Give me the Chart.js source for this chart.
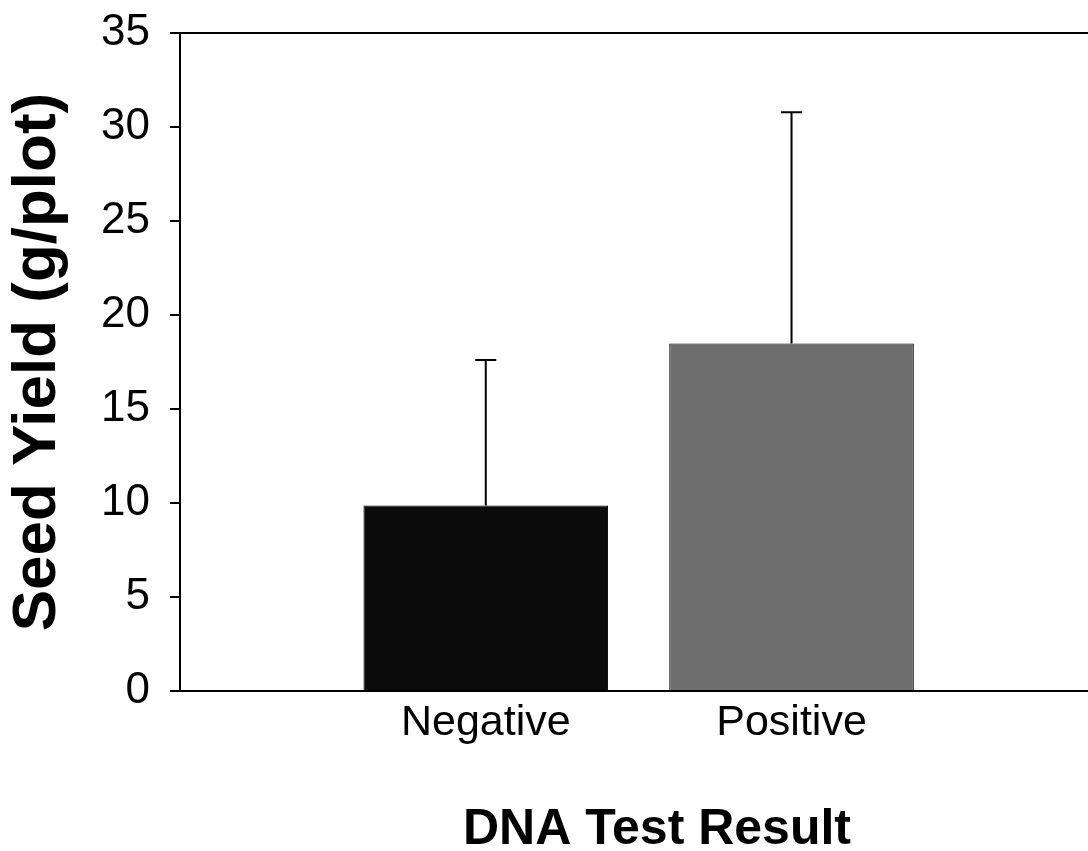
<!DOCTYPE html>
<html>
<head>
<meta charset="utf-8">
<script src="https://cdn.jsdelivr.net/npm/chart.js@4"></script>
<style>
  html, body { margin: 0; padding: 0; background: #fff; overflow: hidden; }
  #wrap { width: 1134px; height: 851px; }
</style>
</head>
<body>
<div id="wrap"><canvas id="yieldChart"></canvas></div>
<script>
// data
const categories = ['Negative', 'Positive'];
const meanYield = [9.87, 18.49];
const errYield = [7.73, 12.29];
const barColors = ['#0b0b0b', '#6e6e6e'];
const yTicks = [0, 5, 10, 15, 20, 25, 30, 35];

Chart.defaults.font.family = '"Liberation Sans", Arial, sans-serif';
Chart.defaults.color = '#000';

// error bars (upper only) + top frame line
const errorBars = {
    id: 'errorBars',
    afterDatasetsDraw(chart) {
        const ctx = chart.ctx;
        const yScale = chart.scales.y;
        const meta = chart.getDatasetMeta(0);
        const area = chart.chartArea;
        ctx.save();
        ctx.strokeStyle = '#000';
        ctx.lineWidth = 2;
        ctx.beginPath();
        ctx.moveTo(area.left, area.top);
        ctx.lineTo(area.right, area.top);
        ctx.stroke();
        meta.data.forEach((bar, i) => {
            const yTop = yScale.getPixelForValue(meanYield[i] + errYield[i]);
            ctx.beginPath();
            ctx.moveTo(bar.x, bar.y);
            ctx.lineTo(bar.x, yTop);
            ctx.moveTo(bar.x - 10.5, yTop);
            ctx.lineTo(bar.x + 10.5, yTop);
            ctx.stroke();
        });
        ctx.restore();
    }
};

const yieldChart = new Chart(document.getElementById('yieldChart'), {
    type: 'bar',
    data: {
        datasets: [{
            data: meanYield.map((v, i) => ({ x: i + 1, y: v })),
            backgroundColor: barColors,
            borderColor: '#000',
            borderWidth: 1,
            barPercentage: 0.8,
            categoryPercentage: 1
        }]
    },
    options: {
        responsive: true,
        maintainAspectRatio: false,
        animation: false,
        layout: { padding: { top: 33, right: 0, bottom: 0, left: 0 } },
        plugins: {
            legend: { display: false },
            tooltip: { enabled: false }
        },
        scales: {
            x: {
                type: 'linear',
                offset: false,
                min: 0,
                max: 3.12,
                afterBuildTicks: (scale) => {
                    scale.ticks = categories.map((c, i) => ({ value: i + 1 }));
                },
                afterFit: (scale) => { scale.height = 160; },
                grid: { display: false, drawTicks: false, offset: false },
                border: { display: true, color: '#000', width: 2 },
                ticks: {
                    padding: 6,
                    font: { size: 43 },
                    callback: (v) => categories[v - 1] || ''
                },
                title: {
                    display: true,
                    text: 'DNA Test Result',
                    font: { size: 50, weight: 'bold', lineHeight: 0.8 },
                    padding: { top: 0, bottom: 1 }
                }
            },
            y: {
                min: 0,
                max: 35,
                afterBuildTicks: (scale) => {
                    scale.ticks = yTicks.map(v => ({ value: v }));
                },
                afterFit: (scale) => {
                    scale.width = 180;
                    scale.paddingTop = 0;
                    scale.paddingBottom = 0;
                },
                grid: {
                    drawOnChartArea: false,
                    drawTicks: true,
                    tickLength: 10,
                    color: '#000',
                    lineWidth: 2
                },
                border: { display: true, color: '#000', width: 2 },
                ticks: {
                    padding: 20,
                    font: { size: 44 }
                },
                title: {
                    display: true,
                    text: 'Seed Yield (g/plot)',
                    font: { size: 62, weight: 'bold' },
                    padding: { top: 1, bottom: 0 }
                }
            }
        }
    },
    plugins: [errorBars]
});
</script>
</body>
</html>
